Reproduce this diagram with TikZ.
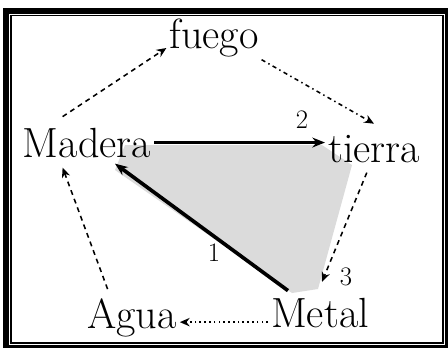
\documentclass[tikz,border=0pt]{standalone}
\usepackage{tikz}
\usetikzlibrary{positioning, arrows.meta, calc}

\begin{document}
\begin{tikzpicture}[
  word/.style={font=\fontsize{30}{36}\selectfont, inner sep=2pt, anchor=base},
  num/.style={font=\fontsize{19}{22}\selectfont, inner sep=1pt},
  boldarr/.style={line width=2.6pt, -{Stealth[length=9pt, width=7pt]}},
  dasharr/.style={line width=1.1pt, dash pattern=on 3.5pt off 3pt, -{Stealth[length=7pt, width=6pt]}},
  dashdotarr/.style={line width=1.1pt, dash pattern=on 3pt off 2.5pt on 1pt off 2.5pt, -{Stealth[length=7pt, width=6pt]}},
  dotarr/.style={line width=1.1pt, dash pattern=on 1.2pt off 2.2pt, -{Stealth[length=7pt, width=6pt]}},
]
  \useasboundingbox (0, 0) rectangle (11.2, 8.675);

  % frame
  \draw[line width=0.15cm] (0.15, -0.025) rectangle (11.2, 8.4);
  \draw[line width=0.04cm] (0.275, 0.1) rectangle (11.075, 8.29);

  % shaded triangle area
  \fill[gray!28] (3.125, 5.05) -- (8.05, 5.05) -- (8.8, 4.55) -- (7.95, 1.45)
    -- (7.3, 1.35) -- (2.875, 4.425) -- cycle;

  % elements
  \node[word] (fuego)  at (5.35, 7.475)  {fuego};
  \node[word] (madera) at (2.175, 4.75)  {Madera};
  \node[word] (tierra) at (9.35, 4.625)  {tierra};
  \node[word] (agua)   at (3.3, 0.475)   {Agua};
  \node[word] (metal)  at (8.0, 0.5)     {Metal};

  % numbered arrows
  \draw[boldarr] (madera.east) -- (madera.east -| tierra.west);
  \draw[boldarr] ($(metal.north west)+(0.5, 0.1)$) -- ($(madera.south)+(0.7, -0.08)$);
  \node[num] (n2) at (7.55, 5.675) {2};
  \node[num] (n1) at (5.35, 2.35)  {1};
  \node[num] (n3) at (8.65, 1.75)  {3};

  % cycle
  \draw[dasharr] ($(madera.north)+(-0.61, 0.2)$) -- (fuego.base west);
  \draw[dashdotarr] (fuego.south east) -- ($(tierra.north)+(0, 0.2)$);
  \draw[dasharr] ($(tierra.south)+(-0.18, -0.18)$) -- ($(metal.north)+(0.05, 0.32)$);
  \coordinate (m) at ($(metal.west)+(0, -0.24)$);
  \draw[dotarr] (m) -- (m -| agua.east);
  \draw[dasharr] ($(agua.north)+(-0.61, 0.15)$) -- ($(madera.south)+(-0.61, -0.18)$);
\end{tikzpicture}
\end{document}
